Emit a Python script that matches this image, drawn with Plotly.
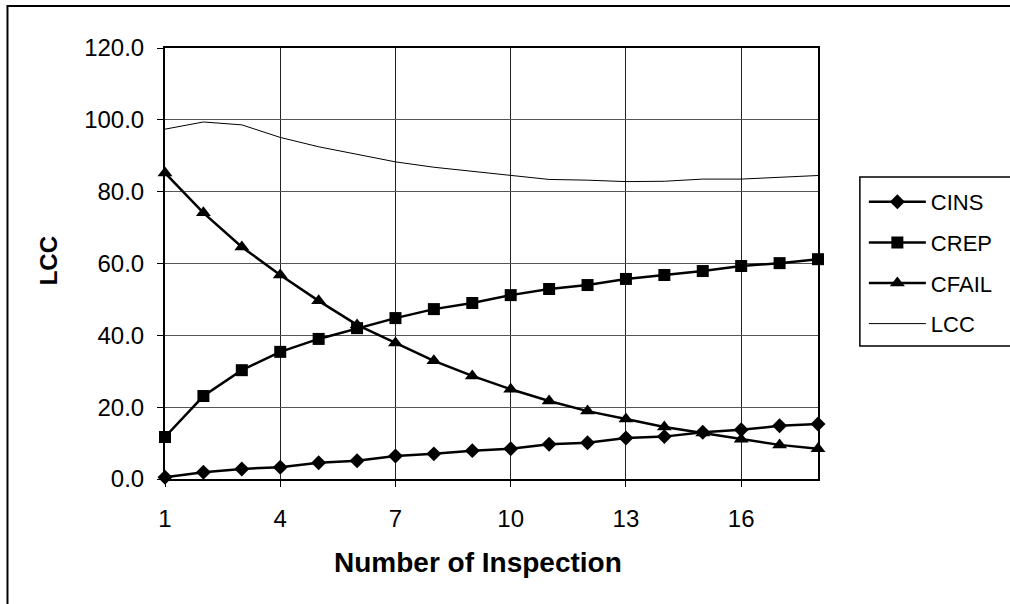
import plotly.graph_objects as go

inspections = list(range(1, 19))
cins = [0.5, 1.9, 2.8, 3.3, 4.5, 5.1, 6.4, 7.0, 7.9, 8.4, 9.7, 10.1, 11.4, 11.8, 13.0, 13.7, 14.8, 15.3]
crep = [11.7, 23.1, 30.3, 35.4, 39.0, 42.0, 44.8, 47.3, 49.0, 51.2, 52.9, 54.0, 55.7, 56.8, 57.9, 59.3, 60.1, 61.2]
cfail = [85.2, 74.1, 64.6, 56.8, 49.6, 42.9, 37.9, 32.9, 28.7, 25.0, 21.7, 18.9, 16.7, 14.5, 12.8, 11.1, 9.5, 8.4]
lcc = [97.4, 99.4, 98.6, 95.1, 92.5, 90.5, 88.3, 86.8, 85.7, 84.5, 83.4, 83.2, 82.8, 82.9, 83.5, 83.5, 84.0, 84.5]

x_ticks = [1, 4, 7, 10, 13, 16]
y_ticks = [0, 20, 40, 60, 80, 100, 120]
y_tick_text = ["0.0", "20.0", "40.0", "60.0", "80.0", "100.0", "120.0"]

FONT = "Liberation Sans, Arial, sans-serif"
FS_TICK = 24
FS_LEG = 22

fig = go.Figure()
series = [
    ("CINS", cins, "diamond", 11.5, 2.5),
    ("CREP", crep, "square", 12, 2.5),
    ("CFAIL", cfail, "triangle-up", 13, 2.5),
]
for name, vals, sym, sz, lw in series:
    fig.add_trace(go.Scatter(
        x=inspections, y=vals, name=name, mode="lines+markers",
        line=dict(color="black", width=lw),
        marker=dict(symbol=sym, size=sz, color="black"),
        cliponaxis=False, legendgroup=name,
    ))
fig.add_trace(go.Scatter(
    x=inspections, y=lcc, name="LCC", mode="lines",
    line=dict(color="black", width=1), cliponaxis=False, legendgroup="LCC",
))

W, H = 1010, 604
L, R, T, B = 165, 820, 48, 479

def px(xp):
    return (xp - L) / (R - L)

def py(yp):
    return (B - yp) / (B - T)

fig.update_layout(
    width=W, height=H,
    margin=dict(l=L, r=W - R, t=T, b=H - B),
    paper_bgcolor="white", plot_bgcolor="white",
    font=dict(family=FONT, size=FS_TICK, color="black"),
    showlegend=True,
    legend=dict(
        x=px(866), y=py(181), xanchor="left", yanchor="top",
        bgcolor="rgba(0,0,0,0)", borderwidth=0,
        font=dict(family=FONT, size=FS_LEG, color="black"),
        tracegroupgap=9, itemwidth=57,
    ),
    xaxis=dict(
        range=[1, 18], tickvals=x_ticks, ticktext=[str(v) for v in x_ticks],
        showgrid=True, gridcolor="#222", gridwidth=1,
        showline=True, linecolor="black", linewidth=2, mirror=True,
        ticks="outside", ticklen=6, tickcolor="black",
        ticklabelstandoff=11, zeroline=False,
        tickfont=dict(family=FONT, size=FS_TICK),
    ),
    yaxis=dict(
        range=[0, 120], tickvals=y_ticks, ticktext=y_tick_text,
        showgrid=True, gridcolor="#555", gridwidth=1,
        showline=True, linecolor="black", linewidth=2, mirror=True,
        ticks="outside", ticklen=6, tickcolor="black",
        ticklabelstandoff=8, zeroline=False,
        tickfont=dict(family=FONT, size=FS_TICK),
    ),
    annotations=[
        dict(text="<b>Number of Inspection</b>", x=px(479), y=py(562), xref="paper", yref="paper",
             showarrow=False, xanchor="center", yanchor="middle", font=dict(family=FONT, size=28)),
        dict(text="<b>LCC</b>", x=px(48), y=py(261), xref="paper", yref="paper", textangle=-90,
             showarrow=False, xanchor="center", yanchor="middle", font=dict(family=FONT, size=24)),
    ],
    shapes=[
        dict(type="rect", xref="paper", yref="paper", x0=px(7), x1=px(1020), y0=py(620), y1=py(6),
             line=dict(color="black", width=2), layer="below"),
        dict(type="rect", xref="paper", yref="paper", x0=px(862), x1=px(1020), y0=py(346), y1=py(177),
             line=dict(color="black", width=1.5), layer="below"),
    ],
)

fig.write_html("out.html")
